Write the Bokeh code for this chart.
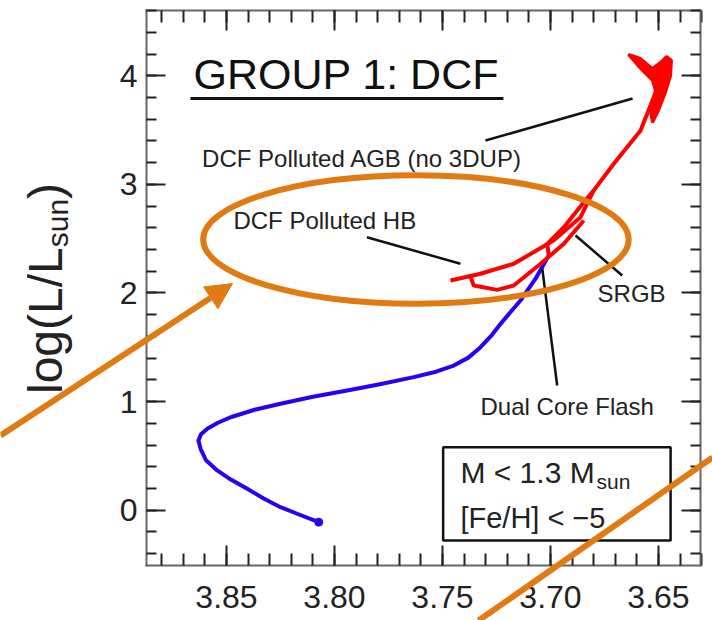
import numpy as np
from bokeh.plotting import figure
from bokeh.models import (Range1d, FixedTicker, LinearAxis, NumeralTickFormatter,
                          Arrow, NormalHead)
from bokeh.core.properties import value
from bokeh.embed import file_html
from bokeh.resources import INLINE

FONT = "Liberation Sans"
ORANGE = "#df7b12"
TXT = "#222222"

# ---------------- data (log Teff, log L/Lsun) ----------------
blue_logteff = [3.8073, 3.8170, 3.8250, 3.8330, 3.8404, 3.8480, 3.8543, 3.8595, 3.8620,
                3.8630, 3.8618, 3.8589, 3.8540, 3.8481, 3.8370, 3.8250, 3.8100, 3.7941,
                3.7790, 3.7633, 3.7530, 3.7448, 3.7380, 3.7324, 3.7275, 3.7231, 3.7185,
                3.7139, 3.7070, 3.7008]
blue_logl = [-0.110, -0.035, 0.028, 0.110, 0.197, 0.282, 0.366, 0.460, 0.565,
             0.642, 0.700, 0.750, 0.805, 0.856, 0.925, 0.980, 1.045, 1.102,
             1.160, 1.225, 1.275, 1.332, 1.405, 1.501, 1.605, 1.716, 1.825,
             1.931, 2.130, 2.345]

red_rgb_logteff = [3.7008, 3.7015, 3.6938, 3.6846, 3.6800, 3.6707, 3.6583, 3.6528, 3.6491, 3.6468]
red_rgb_logl = [2.345, 2.453, 2.606, 2.836, 2.944, 3.190, 3.497, 3.773, 3.957, 4.095]

red_hb_logteff = [3.7463, 3.7324, 3.7170, 3.6986, 3.6861, 3.6800]
red_hb_logl = [2.115, 2.177, 2.269, 2.483, 2.698, 2.944]

red_loop_logteff = [3.7370, 3.7355, 3.7247, 3.7170, 3.7046, 3.6938, 3.6846]
red_loop_logl = [2.146, 2.069, 2.029, 2.069, 2.269, 2.453, 2.668]

red_tip_logteff = [3.6639, 3.6583, 3.6528, 3.6491, 3.6463, 3.6440, 3.6444, 3.6468,
                   3.6500, 3.6528, 3.6537, 3.6514, 3.6528, 3.6583]
red_tip_logl = [4.196, 4.159, 4.067, 4.122, 4.178, 4.141, 4.003, 3.846,
                3.681, 3.570, 3.681, 3.865, 3.957, 4.067]

# leader lines (start -> end)
lead_x0 = [3.7301, 3.7850, 3.6884, 3.7038]
lead_y0 = [3.404, 2.514, 2.529, 2.223]
lead_x1 = [3.6620, 3.7417, 3.6668, 3.6969]
lead_y1 = [3.791, 2.269, 2.161, 1.148]

# labels (y = vertical centre of the text)
lab_text = ["DCF Polluted AGB (no 3DUP)", "DCF Polluted HB", "SRGB", "Dual Core Flash"]
lab_x = [3.8613, 3.8468, 3.6782, 3.7324]
lab_y = [3.234, 2.672, 1.996, 0.955]

title_text = "GROUP 1: DCF"
title_x, title_y = 3.8653, 4.012
underline_x = [3.8667, 3.7218]
underline_y = [3.791, 3.791]

box_left, box_right, box_bottom, box_top = 3.7497, 3.6444, -0.279, 0.580
box_line1 = "M < 1.3 M"
box_line1_sub = "sun"
box_line2 = "[Fe/H] < \u22125"

ylabel_parts = ["log(L/L", "sun", ")"]

# orange overlay annotations
ell_x, ell_y, ell_w, ell_h = 3.7623, 2.493, 0.197, 1.182
arrow_x = [3.9546, 3.8472]
arrow_y = [0.688, 2.087]
slash_x = [3.7333, 3.6250]
slash_y = [-1.016, 0.485]

x_major = [3.85, 3.80, 3.75, 3.70, 3.65]
x_minor = [round(3.63 + 0.01 * i, 2) for i in range(26)]
y_major = [0, 1, 2, 3, 4]
y_minor = [round(-0.4 + 0.2 * i, 1) for i in range(26)]

X_LO, X_HI = 3.6305, 3.8870      # plotted box, log Teff
Y_LO, Y_HI = -0.51, 4.60         # plotted box, log L

# ---------------- figure (frame covers the whole canvas; axes at fixed locations) ------
p = figure(width=712, height=620, output_backend="svg", toolbar_location=None,
           x_range=Range1d(3.95463, 3.62500), y_range=Range1d(-1.0157, 4.6934),
           min_border=0, min_border_left=0, min_border_right=0, min_border_top=0,
           min_border_bottom=0, x_axis_location=None, y_axis_location=None)
p.grid.visible = False
p.background_fill_color = "white"
p.border_fill_color = "white"
p.outline_line_color = None


def style_axis(ax, show, major, minor, maj_len, min_len, fmt):
    ax.ticker = FixedTicker(ticks=major, minor_ticks=minor)
    ax.formatter = NumeralTickFormatter(format=fmt)
    ax.major_tick_in = maj_len
    ax.major_tick_out = 0
    ax.minor_tick_in = min_len
    ax.minor_tick_out = 0
    ax.major_tick_line_color = "#222222"
    ax.minor_tick_line_color = "#222222"
    ax.major_tick_line_width = 2
    ax.minor_tick_line_width = 2
    ax.axis_line_color = "#666666"
    ax.axis_line_width = 2
    ax.axis_line_cap = "square"
    ax.major_label_text_font = FONT
    if show:
        ax.major_label_text_font_size = "32px"
        ax.major_label_text_color = TXT
    else:
        ax.major_label_text_font_size = "0px"
        ax.major_label_text_color = None
        ax.major_label_standoff = 0


xb = LinearAxis(fixed_location=Y_LO, bounds=(X_LO, X_HI))
style_axis(xb, True, x_major, x_minor, 20, 12, "0.00")
xb.major_label_standoff = 20
p.add_layout(xb, "below")
xa = LinearAxis(fixed_location=Y_HI, bounds=(X_LO, X_HI))
style_axis(xa, False, x_major, x_minor, 20, 12, "0.00")
p.add_layout(xa, "above")
yl = LinearAxis(fixed_location=X_HI, bounds=(Y_LO, Y_HI))
style_axis(yl, True, y_major, y_minor, 19, 10, "0")
yl.major_label_standoff = 9
p.add_layout(yl, "left")
yr = LinearAxis(fixed_location=X_LO, bounds=(Y_LO, Y_HI))
style_axis(yr, False, y_major, y_minor, 19, 10, "0")
p.add_layout(yr, "right")

# tracks
p.line(blue_logteff, blue_logl, line_color="#2a00f0", line_width=4, line_join="round")
p.scatter([blue_logteff[0]], [blue_logl[0]], size=8, color="#2a00f0")
for xs, ys in [(red_rgb_logteff, red_rgb_logl), (red_hb_logteff, red_hb_logl),
               (red_loop_logteff, red_loop_logl)]:
    p.line(xs, ys, line_color="#ff0000", line_width=4, line_join="round")
p.patch(red_tip_logteff, red_tip_logl, fill_color="#ff0000", line_color="#ff0000", line_width=3)

# leader lines
p.segment(lead_x0, lead_y0, lead_x1, lead_y1, line_color="#111111", line_width=2.5)

# text labels
p.text(lab_x, lab_y, text=lab_text, text_font=value(FONT), text_font_size=value("24px"),
       text_color=TXT, text_align="left", text_baseline="middle")
p.text([title_x], [title_y], text=[title_text], text_font=value(FONT),
       text_font_size=value("43px"), text_color="#111111", text_align="left",
       text_baseline="middle")
p.line(underline_x, underline_y, line_color="#111111", line_width=3)

# info box
p.quad(left=[box_left], right=[box_right], bottom=[box_bottom], top=[box_top],
       fill_color=None, line_color="#111111", line_width=2.5)
p.text([3.7417], [0.347], text=[box_line1], text_font=value(FONT), text_font_size=value("30px"),
       text_color=TXT, text_align="left", text_baseline="middle")
p.text([3.6787], [0.265], text=[box_line1_sub], text_font=value(FONT), text_font_size=value("21px"),
       text_color=TXT, text_align="left", text_baseline="middle")
p.text([3.7417], [-0.076], text=[box_line2], text_font=value(FONT), text_font_size=value("29px"),
       text_color=TXT, text_align="left", text_baseline="middle")

# y-axis title, rotated, with subscript
p.text([3.9338], [1.070], text=[ylabel_parts[0]], angle=np.pi / 2, text_font=value(FONT),
       text_font_size=value("48px"), text_color=TXT, text_align="left", text_baseline="middle")
p.text([3.9282], [2.421], text=[ylabel_parts[1]], angle=np.pi / 2, text_font=value(FONT),
       text_font_size=value("30px"), text_color=TXT, text_align="left", text_baseline="middle")
p.text([3.9338], [2.866], text=[ylabel_parts[2]], angle=np.pi / 2, text_font=value(FONT),
       text_font_size=value("48px"), text_color=TXT, text_align="left", text_baseline="middle")

# orange overlay
p.ellipse(x=[ell_x], y=[ell_y], width=[ell_w], height=[ell_h], fill_color=None,
          line_color=ORANGE, line_width=6)
p.add_layout(Arrow(end=NormalHead(size=26, fill_color=ORANGE, line_color=ORANGE),
                   x_start=arrow_x[0], y_start=arrow_y[0], x_end=arrow_x[1], y_end=arrow_y[1],
                   line_color=ORANGE, line_width=6))
p.add_layout(Arrow(end=None, x_start=slash_x[0], y_start=slash_y[0], x_end=slash_x[1],
                   y_end=slash_y[1], line_color=ORANGE, line_width=6))

open("out.html", "w").write(file_html(p, INLINE))
